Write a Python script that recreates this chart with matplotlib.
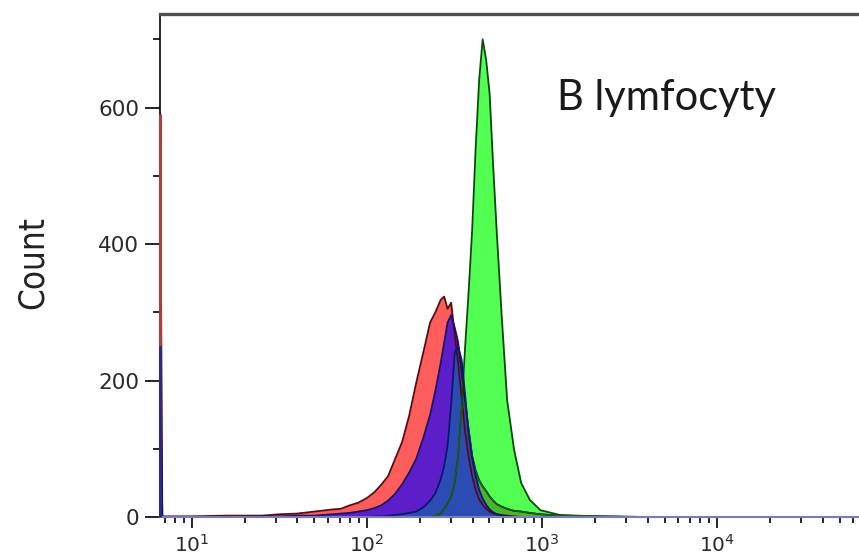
import numpy as np
import matplotlib.pyplot as plt
from matplotlib.ticker import FixedLocator, MultipleLocator, LogLocator, LogFormatterSciNotation

# histogram points: position in decades (log10 of fluorescence) and counts
log_fl = [0.817, 0.83, 1.0, 1.2, 1.4, 1.5, 1.6, 1.7, 1.8, 1.85,
          1.9, 1.95, 2.0, 2.04, 2.08, 2.12, 2.16, 2.2, 2.24, 2.28,
          2.32, 2.36, 2.39, 2.42, 2.44, 2.46, 2.48, 2.5, 2.52, 2.54,
          2.56, 2.58, 2.6, 2.62, 2.64, 2.66, 2.68, 2.7, 2.72, 2.74,
          2.77, 2.8, 2.84, 2.88, 2.93, 2.99, 3.1, 3.3, 3.6, 4.0, 4.81]

red_counts = [590, 1, 1, 2, 2, 4, 5, 8, 11, 12,
              17, 21, 28, 36, 47, 60, 85, 110, 148, 196,
              240, 285, 300, 318, 323, 305, 314, 268, 225, 175,
              125, 88, 60, 40, 26, 18, 12, 8, 5, 4,
              3, 2, 1, 0, 0, 0, 0, 0, 0, 0, 0]

purple_counts = [250, 0, 0, 0, 1, 1, 2, 2, 4, 5,
                 6, 8, 10, 13, 17, 24, 34, 48, 65, 85,
                 115, 150, 185, 225, 255, 285, 296, 278, 256, 212,
                 168, 128, 90, 68, 54, 45, 38, 30, 24, 19,
                 15, 12, 9, 8, 6, 4, 2, 1, 0, 0, 0]

blue_counts = [0, 0, 0, 0, 0, 0, 0, 0, 0, 0,
               0, 0, 0, 1, 1, 2, 3, 4, 6, 8,
               14, 24, 35, 55, 75, 105, 165, 240, 250, 230,
               178, 122, 86, 60, 40, 27, 18, 11, 7, 4,
               2, 1, 0, 0, 0, 0, 0, 0, 0, 0, 0]

green_counts = [0, 0, 0, 0, 0, 0, 0, 0, 0, 0,
                0, 0, 0, 0, 0, 0, 0, 0, 0, 0,
                0, 0, 2, 5, 12, 20, 30, 50, 90, 160,
                250, 330, 420, 540, 640, 700, 670, 620, 515, 420,
                290, 171, 98, 50, 25, 10, 3, 1, 0, 0, 0]

y_ticks = [0, 200, 400, 600]
panel_label = 'B lymfocyty'

fl = 10 ** np.array(log_fl)
red = np.array(red_counts)
purple = np.array(purple_counts)
blue = np.array(blue_counts)
green = np.array(green_counts)

fig = plt.figure(figsize=(8.59, 5.57), dpi=100)
ax = fig.add_axes([0.1863, 0.0718, 0.8137, 0.903])
ax.set_xscale('log')

# layered histograms, later ones cover earlier ones
ax.fill_between(fl, red, color='#ff5c5c', lw=0)
ax.plot(fl, red, color='#5a0a0a', lw=1.3)
ax.fill_between(fl, purple, color='#5c1ec8', lw=0)
ax.plot(fl, purple, color='#14106a', lw=1.3)
ax.fill_between(fl, green, color='#52ff52', lw=0)
ax.plot(fl, green, color='#0c4a0c', lw=1.3)
overlap = np.minimum(green, purple)
ax.fill_between(fl, overlap, color='#46b82c', lw=0)
ax.plot(fl, overlap, color='#1e5a14', lw=1.1)
ax.fill_between(fl, blue, color='#2a4cb4', lw=0)
ax.plot(fl, blue, color='#0c1670', lw=1.3)

# off-scale events piled up in the first channel, drawn on the left axis
ax.vlines(fl[0], purple[0], red[0], color='#b03c3c', lw=2.2, zorder=3, clip_on=False)
ax.vlines(fl[0], 0, purple[0], color='#2a2a88', lw=2.2, zorder=3, clip_on=False)

ax.set_xlim(10 ** 0.817, 10 ** 4.81)
ax.set_ylim(0, 737)

ax.yaxis.set_major_locator(FixedLocator(y_ticks))
ax.yaxis.set_minor_locator(MultipleLocator(100))
ax.xaxis.set_major_locator(LogLocator(base=10))
ax.xaxis.set_minor_locator(LogLocator(base=10, subs=np.arange(2, 10)))
ax.xaxis.set_major_formatter(LogFormatterSciNotation())

ax.tick_params(axis='y', which='major', length=11, width=1.2, pad=4,
               labelsize=15.5, labelcolor='#2a2a2a')
ax.tick_params(axis='y', which='minor', length=5, width=1.2)
ax.tick_params(axis='x', which='major', length=8, width=1.2, pad=4,
               labelsize=14.5, labelcolor='#2a2a2a')
ax.tick_params(axis='x', which='minor', length=4, width=1.2)

ax.spines['right'].set_visible(False)
ax.spines['top'].set_color('#505050')
ax.spines['top'].set_linewidth(2.4)
ax.spines['left'].set_color('black')
ax.spines['left'].set_linewidth(1.2)
ax.spines['bottom'].set_color('#7b7bb8')
ax.spines['bottom'].set_linewidth(1.5)

fig.text(0.038, 0.528, 'Count', rotation=90, fontsize=25,
         family='DejaVu Sans', fontstretch='condensed',
         ha='center', va='center', color='#222222')
fig.text(0.649, 0.8025, panel_label, fontsize=30, family='Lato',
         ha='left', va='baseline', color='#1a1a1a')

fig.savefig('out.png', dpi=100)
